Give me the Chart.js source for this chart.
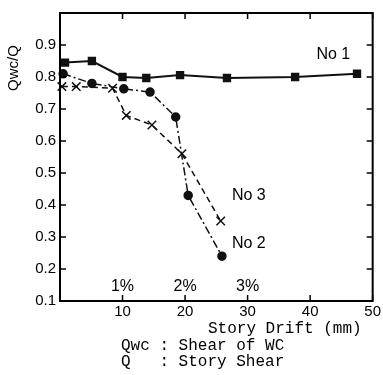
<!DOCTYPE html>
<html>
<head>
<meta charset="utf-8">
<script src="https://cdn.jsdelivr.net/npm/chart.js@4.4.1/dist/chart.umd.min.js"></script>
<style>
  html, body { margin: 0; padding: 0; background: #fff; }
  #wrap { width: 383px; height: 375px; }
</style>
</head>
<body>
<div id="wrap"><canvas id="driftChart" width="383" height="375"></canvas></div>
<script>
// story drift (mm) vs Qwc/Q for the three specimens
const drift1 = [0.8, 5.1, 10, 13.8, 19.2, 26.7, 37.6, 47.5];
const ratio1 = [0.845, 0.85, 0.80, 0.797, 0.806, 0.797, 0.80, 0.81];
const drift2 = [0.5, 5.1, 10.2, 14.4, 18.5, 20.5, 25.9];
const ratio2 = [0.81, 0.78, 0.763, 0.753, 0.675, 0.43, 0.24];
const drift3 = [0.3, 2.6, 8.4, 10.6, 14.7, 19.5, 25.7];
const ratio3 = [0.77, 0.77, 0.765, 0.68, 0.65, 0.56, 0.35];

const xTicks = [0, 10, 20, 30, 40, 50];
const yTicks = [0.1, 0.2, 0.3, 0.4, 0.5, 0.6, 0.7, 0.8, 0.9, 1.0];
const seriesNames = ["No 1", "No 2", "No 3"];
const namePos = [[41, 0.87], [27.5, 0.28], [27.5, 0.43]];
const percentLabels = ["1%", "2%", "3%"];
const percentAt = [10, 20, 30];

const pts = (xs, ys) => xs.map((x, i) => ({ x: x, y: ys[i] }));

// frame, inward ticks and text notes
const decor = {
  id: "decor",
  afterDraw(chart) {
    const c = chart.ctx;
    const a = chart.chartArea;
    const sx = chart.scales.x, sy = chart.scales.y;
    c.save();
    c.strokeStyle = "#000";
    c.lineWidth = 2;
    c.strokeRect(a.left, a.top, a.right - a.left, a.bottom - a.top);
    c.lineWidth = 1.5;
    c.beginPath();
    xTicks.forEach(v => {
      const px = sx.getPixelForValue(v);
      c.moveTo(px, a.bottom); c.lineTo(px, a.bottom - 6);
      c.moveTo(px, a.top); c.lineTo(px, a.top + 6);
    });
    yTicks.forEach(v => {
      const py = sy.getPixelForValue(v);
      c.moveTo(a.left, py); c.lineTo(a.left + 6, py);
      c.moveTo(a.right, py); c.lineTo(a.right - 6, py);
    });
    c.stroke();

    c.fillStyle = "#000";
    c.font = "16px 'Liberation Sans'";
    c.textAlign = "left";
    c.textBaseline = "middle";
    seriesNames.forEach((n, i) => {
      c.fillText(n, sx.getPixelForValue(namePos[i][0]), sy.getPixelForValue(namePos[i][1]));
    });
    c.textAlign = "center";
    percentLabels.forEach((t, i) => {
      c.fillText(t, sx.getPixelForValue(percentAt[i]), a.bottom - 14);
    });

    c.font = "16px 'Liberation Mono'";
    c.textAlign = "left";
    c.fillText("Story Drift (mm)", 208, 329);
    c.fillText("Qwc : Shear of WC", 121, 346);
    c.fillText("Q   : Story Shear", 121, 362);

    c.translate(14, 68);
    c.rotate(-Math.PI / 2);
    c.textAlign = "center";
    c.font = "15px 'Liberation Sans'";
    c.fillText("Qwc/Q", 0, 0);
    c.restore();
  }
};

const ctx = document.getElementById("driftChart").getContext("2d");
new Chart(ctx, {
  type: "line",
  data: {
    datasets: [
      {
        label: seriesNames[0],
        data: pts(drift1, ratio1),
        borderColor: "#111",
        backgroundColor: "#111",
        borderWidth: 2,
        pointStyle: "rect",
        pointRadius: 4.5,
      },
      {
        label: seriesNames[1],
        data: pts(drift2, ratio2),
        borderColor: "#111",
        backgroundColor: "#111",
        borderWidth: 1.5,
        borderDash: [8, 3, 2, 3],
        pointStyle: "circle",
        pointRadius: 4,
      },
      {
        label: seriesNames[2],
        data: pts(drift3, ratio3),
        borderColor: "#111",
        backgroundColor: "#111",
        borderWidth: 1.5,
        borderDash: [6, 4],
        pointStyle: "crossRot",
        pointRadius: 6,
        pointBorderWidth: 1.5,
      },
    ],
  },
  options: {
    responsive: false,
    animation: false,
    clip: false,
    layout: { padding: { top: 11, right: 8, left: 0, bottom: 0 } },
    plugins: { legend: { display: false }, tooltip: { enabled: false } },
    scales: {
      x: {
        type: "linear",
        min: 0,
        max: 50,
        afterFit: (s) => { s.height = 74; },
        afterBuildTicks: (s) => { s.ticks = xTicks.map(v => ({ value: v })); },
        grid: { display: false, drawTicks: false },
        border: { display: false },
        ticks: {
          padding: 2,
          color: "#000",
          font: { family: "Liberation Sans", size: 15 },
          callback: (v) => (v === 0 ? "" : v),
        },
      },
      y: {
        min: 0.1,
        max: 1.0,
        afterFit: (s) => { s.width = 60; },
        afterBuildTicks: (s) => { s.ticks = yTicks.map(v => ({ value: v })); },
        grid: { display: false, drawTicks: false },
        border: { display: false },
        ticks: {
          padding: 4,
          color: "#000",
          font: { family: "Liberation Sans", size: 15 },
          callback: (v) => (v >= 0.95 ? "" : v.toFixed(1)),
        },
      },
    },
  },
  plugins: [decor],
});
</script>
</body>
</html>
